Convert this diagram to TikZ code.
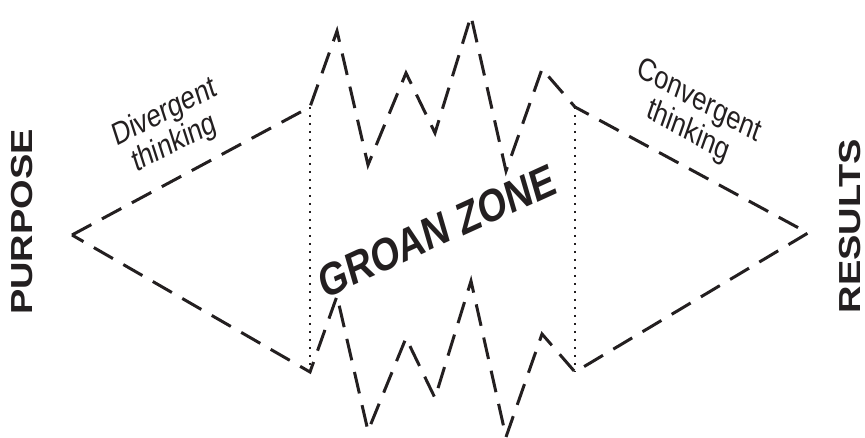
\documentclass[tikz,border=0pt]{standalone}
\usepackage{fontspec}
\setmainfont{Liberation Sans}
\usepackage{graphicx}
\definecolor{ink}{RGB}{35,31,32}
% rotate a label, then narrow it horizontally like the rest of the figure
\newcommand{\squashrot}[2]{\scalebox{0.8}[1]{\rotatebox{#1}{#2}}}

\begin{document}
\begin{tikzpicture}[x=1pt,y=-1pt,
  outline/.style={draw=ink, line width=3pt, dash pattern=on 22pt off 12pt},
  guide/.style={draw=ink, line width=1.7pt, dash pattern=on 1.7pt off 6.3pt},
  lbl/.style={inner sep=0pt, text=ink}]
\useasboundingbox (0,0) rectangle (865,438);

% outer corners and junctions
\coordinate (L)  at (72,235);
\coordinate (R)  at (808,233);
\coordinate (TL) at (310,107);
\coordinate (BL) at (310,372);
\coordinate (TR) at (575,107);
\coordinate (BR) at (575,372);

% upper jagged edge
\coordinate (u1) at (337,31);
\coordinate (u2) at (368,165);
\coordinate (u3) at (406,73);
\coordinate (u4) at (435,133);
\coordinate (u5) at (471,16);
\coordinate (u6) at (506,171);
\coordinate (u7) at (542,69);

% lower jagged edge
\coordinate (d1) at (337,296);
\coordinate (d2) at (368,431);
\coordinate (d3) at (406,338);
\coordinate (d4) at (435,398);
\coordinate (d5) at (471,281);
\coordinate (d6) at (506,437);
\coordinate (d7) at (542,334);

% dashed outline of the whole process
\draw[outline] (L) -- (TL) -- (u1) -- (u2) -- (u3) -- (u4) -- (u5) -- (u6) -- (u7) -- (TR)
  -- (R) -- (BR) -- (d7) -- (d6) -- (d5) -- (d4) -- (d3) -- (d2) -- (d1) -- (BL) -- cycle;

% dotted boundaries of the groan zone
\draw[guide] (TL) -- (BL);
\draw[guide] (TR) -- (BR);

% labels
\node[lbl] (purpose) at (22,222) {\squashrot{90}{\fontsize{38}{40}\selectfont\bfseries PURPOSE}};
\node[lbl] (results) at (850,226) {\squashrot{90}{\fontsize{38}{40}\selectfont\bfseries RESULTS}};
\node[lbl] (groan) at (437,231) {\squashrot{20}{\fontsize{46}{48}\selectfont\bfseries GROAN ZONE}};
\node[lbl] (div) at (170,130) {\squashrot{22}{\fontsize{32}{33}\selectfont\begin{tabular}{@{}c@{}}Divergent\\ thinking\end{tabular}}};
\node[lbl] (conv) at (693,118) {\squashrot{-24}{\fontsize{32}{33}\selectfont\begin{tabular}{@{}c@{}}Convergent\\ thinking\end{tabular}}};
\end{tikzpicture}
\end{document}
